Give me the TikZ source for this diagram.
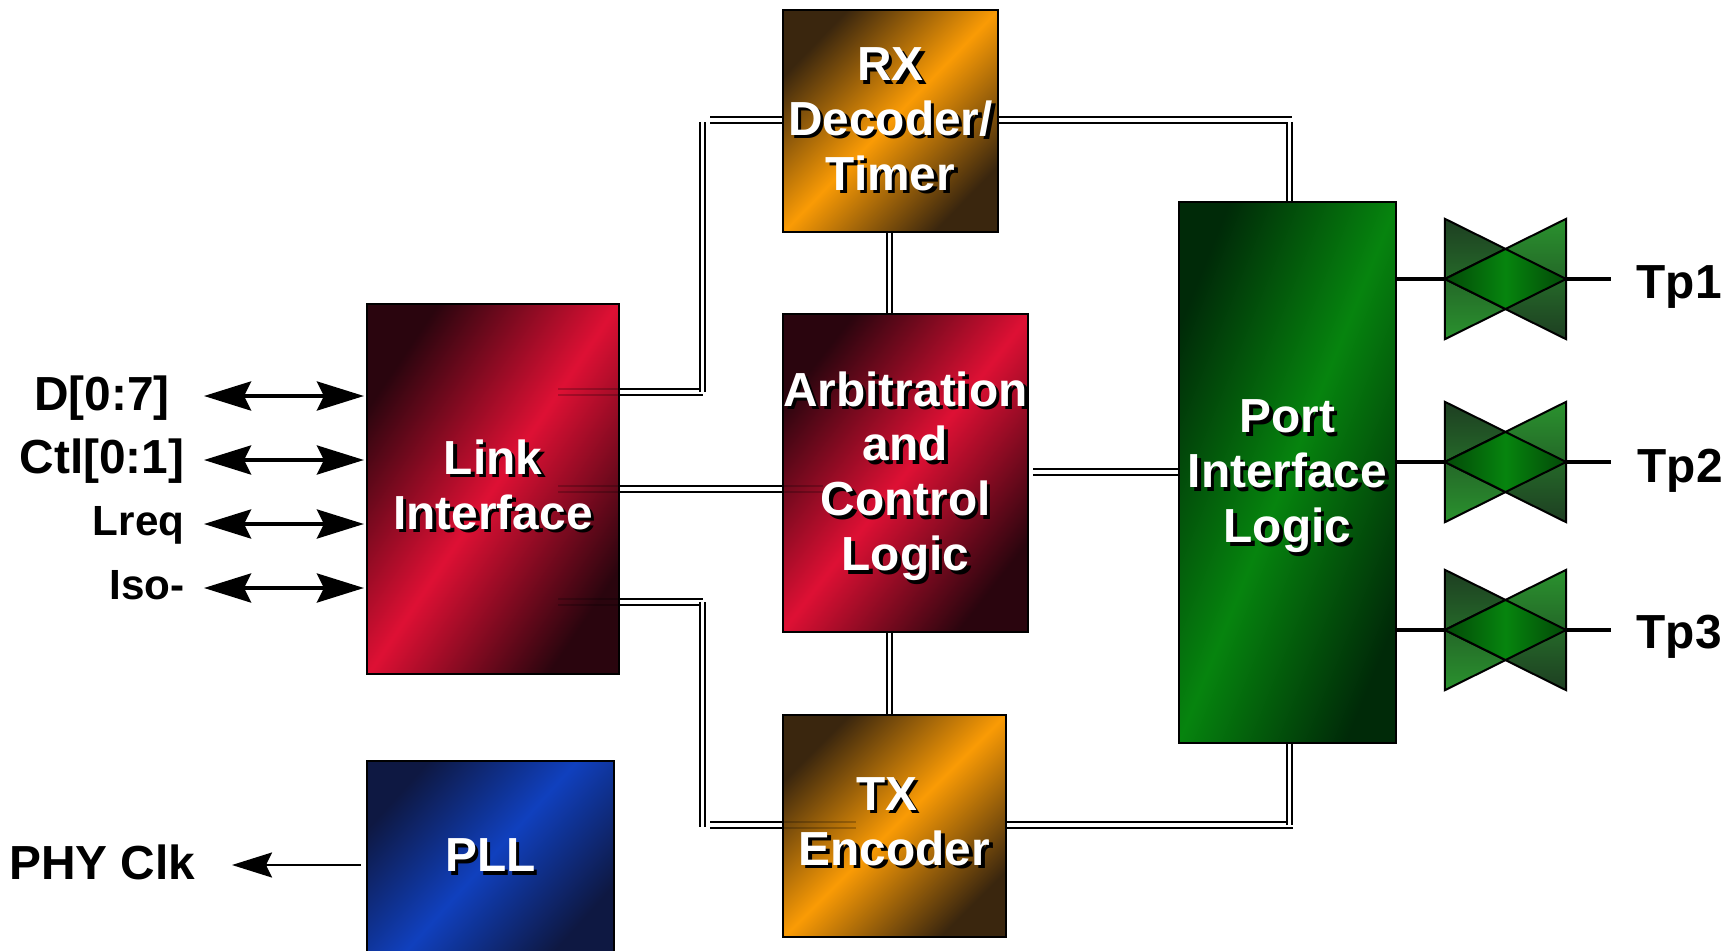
\documentclass[tikz,border=0pt]{standalone}
\usepackage{fontspec}
\setmainfont{Liberation Sans}
\usepackage{xcolor}
\usetikzlibrary{arrows.meta,calc}

\definecolor{reddark}{RGB}{42,5,14}
\definecolor{redlite}{RGB}{222,16,52}
\definecolor{orgdark}{RGB}{58,38,14}
\definecolor{orglite}{RGB}{250,155,5}
\definecolor{grndark}{RGB}{0,42,8}
\definecolor{grnlite}{RGB}{6,132,14}
\definecolor{bludark}{RGB}{14,24,66}
\definecolor{blulite}{RGB}{16,64,190}
\definecolor{gatedark}{RGB}{30,62,34}
\definecolor{gatelite}{RGB}{42,146,46}

\newcommand{\sht}[1]{\makebox[0pt][l]{\kern.035cm\raisebox{-.035cm}{\textcolor{black}{#1}}}\textcolor{white}{#1}}

\tikzset{
	block/.style={rectangle, draw=black, line width=.02cm, inner sep=0pt, align=center,
		font=\fontsize{13.6}{15.6}\selectfont\bfseries},
	redblock/.style={block, top color=reddark, bottom color=reddark, middle color=redlite},
	orgblock/.style={block, top color=orgdark, bottom color=orgdark, middle color=orglite},
	grnblock/.style={block, top color=grndark, bottom color=grndark, middle color=grnlite},
	blublock/.style={block, top color=bludark, bottom color=bludark, middle color=blulite},
	pinlabel/.style={inner sep=0pt, font=\fontsize{13.6}{15.6}\selectfont\bfseries},
	smallpin/.style={pinlabel, font=\fontsize{12}{15.6}\selectfont\bfseries},
	bus/.style={draw=black, line width=.02cm, double=white, double distance=.035cm},
	ghostbus/.style={draw=black, line width=.02cm, opacity=.22},
	wire/.style={draw=black, line width=.04cm},
	pinarrow/.style={wire, {Stealth[length=.47cm,width=.29cm,inset=.07cm]}-{Stealth[length=.47cm,width=.29cm,inset=.07cm]}},
	clkarrow/.style={draw=black, line width=.02cm, -{Stealth[length=.40cm,width=.25cm,inset=.06cm]}},
	gate/.style={rectangle, minimum width=1.2cm, minimum height=1.19cm, inner sep=0pt},
	gateedge/.style={draw=black, line width=.02cm, line join=miter}
}

\begin{document}
\begin{tikzpicture}[x=.01cm, y=-.01cm]

	\useasboundingbox (0,0) rectangle (1732,951);

	% blocks
	\node (rx) [orgblock, shading angle=46, minimum width=2.14cm, minimum height=2.22cm] at (890.5,121)
		{\sht{RX}\\\sht{Decoder/}\\\sht{Timer}};
	\node (arb) [redblock, shading angle=52, minimum width=2.45cm, minimum height=3.18cm] at (905.5,473)
		{\rule{0pt}{12.6pt}\sht{Arbitration}\\\sht{and}\\\sht{Control}\\\sht{Logic}};
	\node (tx) [orgblock, shading angle=45, minimum width=2.23cm, minimum height=2.22cm] at (894.5,826)
		{\sht{TX}\hspace*{.155cm}\\\sht{Encoder}\rule[-2.6pt]{0pt}{0pt}};
	\node (link) [redblock, shading angle=56, minimum width=2.52cm, minimum height=3.70cm] at (493,489)
		{\sht{Link}\\\sht{Interface}\rule[-2.6pt]{0pt}{0pt}};
	\node (pll) [blublock, shading angle=48, minimum width=2.47cm, minimum height=1.92cm] at (490.5,857)
		{\sht{PLL}};
	\node (port) [grnblock, shading angle=68, minimum width=2.17cm, minimum height=5.41cm] at (1287.5,472.5)
		{\rule{0pt}{12.6pt}\sht{Port}\\\sht{Interface}\\\sht{Logic}};

	% pin labels
	\node (dpin) [pinlabel, anchor=base east] at (170.5,410) {D[0:7]};
	\node (ctl) [pinlabel, anchor=base east] at (185,473) {Ctl[0:1]};
	\node (lreq) [smallpin, anchor=base east] at (185,535) {Lreq};
	\node (iso) [smallpin, anchor=base east] at (185,599) {Iso-};
	\node (phy) [pinlabel, anchor=base east] at (196,879) {PHY Clk};
	\node (tp1) [pinlabel, anchor=base west] at (1636,298) {Tp1};
	\node (tp2) [pinlabel, anchor=base west] at (1637,482) {Tp2};
	\node (tp3) [pinlabel, anchor=base west] at (1636,648) {Tp3};

	% arrows on the left
	\foreach \n/\y in {d/396,c/460,l/524,i/588}{
		\coordinate (\n end) at (204,\y);
		\draw[pinarrow, shorten >=.02cm] (\n end) -- (link.west |- \n end);
	}
	\coordinate (clkend) at (232,865);
	\draw[clkarrow, shorten <=.05cm] (pll.west |- clkend) -- (clkend);

	% corner points of the busses
	\coordinate (upl) at (702.5,392);
	\coordinate (upt) at (702.5,122);
	\coordinate (uph) at (710,120);
	\coordinate (rxr) at (1292,120);
	\coordinate (rxd) at (1289.5,122);
	\coordinate (lol) at (702.5,602);
	\coordinate (lod) at (702.5,827);
	\coordinate (loh) at (710,825);
	\coordinate (txr) at (1292.5,825);
	\coordinate (txu) at (1289.5,825);
	\coordinate (arbr) at (1033,472);

	% busses
	\draw[bus] (link.east |- upl) -- (upl);
	\draw[bus] (upl) -- (upt);
	\draw[bus] (uph) -- (rx.west |- uph);
	\draw[bus] (rx.east |- rxr) -- (rxr);
	\draw[bus] (rxd) -- (port.north -| rxd);
	\draw[bus] (rx.south -| 889.5,0) -- (arb.north -| 889.5,0);
	\draw[bus] (link.east |- 0,489) -- (arb.west |- 0,489);
	\draw[bus] (arbr) -- (port.west |- arbr);
	\draw[bus] (link.east |- lol) -- (lol);
	\draw[bus] (lol) -- (lod);
	\draw[bus] (loh) -- (tx.west |- loh);
	\draw[bus] (arb.south -| 889.5,0) -- (tx.north -| 889.5,0);
	\draw[bus] (tx.east |- txr) -- (txr);
	\draw[bus] (txu) -- (port.south -| txu);

	% faint traces inside the blocks
	\foreach \y in {389,395,486,492,599,605}
		\draw[ghostbus] (558,\y) -- (link.east |- 0,\y);
	\foreach \y in {486,492}
		\draw[ghostbus] (arb.west |- 0,\y) -- (823,\y);
	\foreach \y in {822,828}
		\draw[ghostbus] (tx.west |- 0,\y) -- (856,\y);

	% pass gates
	\foreach \n/\y in {1/279,2/462,3/630}{
		\node (gate\n) [gate] at (1505.5,\y) {};
		\draw[wire] (port.east |- gate\n) -- (gate\n.west);
		\coordinate (wire\n) at (1611,\y);
		\draw[wire] (gate\n.east) -- (wire\n);
		\draw[gateedge, top color=gatedark, bottom color=gatelite] (gate\n.north west) -- (gate\n.south west) -- (gate\n.east) -- cycle;
		\draw[gateedge, top color=gatelite, bottom color=gatedark] (gate\n.north east) -- (gate\n.south east) -- (gate\n.west) -- cycle;
		\draw[gateedge, left color=grnlite!55!black, right color=grnlite!55!black, middle color=grnlite]
			(gate\n.west) -- ($(gate\n.center)+(0,-30)$) -- (gate\n.east) -- ($(gate\n.center)+(0,30)$) -- cycle;
	}

\end{tikzpicture}
\end{document}
